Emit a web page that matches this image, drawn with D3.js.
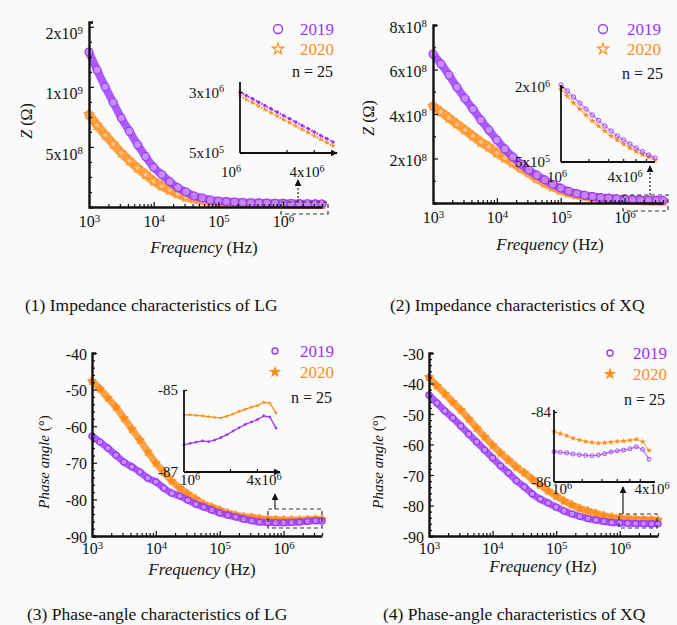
<!DOCTYPE html>
<html>
<head>
<meta charset="utf-8">
<script src="https://cdn.jsdelivr.net/npm/d3@7"></script>
<style>
  body { margin: 0; background: #fafafa; }
  svg text { font-family: "Liberation Serif", "DejaVu Serif", serif; }
</style>
</head>
<body>
<svg width="677" height="625"></svg>
<script>
// frequency sweep shared by the four main panels (Hz)
var freq = [1000,1334,1778,2371,3162,4217,5623,7499,10000,13335,17783,23714,31623,42170,56234,74989,
  100000,133352,177828,237137,316228,421697,562341,749894,1000000,1333521,1778279,2371374,3162278,4000000];
// sweep shown in the zoomed insets (Hz)
var freqZoom = [1000000,1097000,1203000,1320000,1447000,1587000,1741000,1910000,2095000,2297000,
  2520000,2764000,3031000,3325000,3647000,4000000];

// (1) impedance LG
var zLG2019 = [1.29e9,1.14e9,1.00e9,8.7e8,7.4e8,6.3e8,5.2e8,4.2e8,3.3e8,2.7e8,2.1e8,1.6e8,1.25e8,9.2e7,7.5e7,
  5.8e7,5.0e7,4.5e7,4.1e7,3.8e7,3.6e7,3.4e7,3.2e7,3.1e7,3.0e7,2.9e7,2.8e7,2.7e7,2.6e7,2.5e7];
var zLG2020 = [7.7e8,6.8e8,6.0e8,5.25e8,4.5e8,3.85e8,3.25e8,2.7e8,2.15e8,1.75e8,1.4e8,1.1e8,8.3e7,6.7e7,5.4e7,
  4.6e7,4.0e7,3.6e7,3.3e7,3.0e7,2.8e7,2.7e7,2.6e7,2.5e7,2.4e7,2.3e7,2.2e7,2.1e7,2.1e7,2.0e7];
// (2) impedance XQ
var zXQ2019 = [6.7e8,6.25e8,5.75e8,5.2e8,4.7e8,4.22e8,3.73e8,3.28e8,2.83e8,2.43e8,2.07e8,1.75e8,1.48e8,1.25e8,1.04e8,
  8.4e7,6.7e7,5.3e7,4.3e7,3.5e7,2.9e7,2.5e7,2.2e7,1.9e7,1.7e7,1.5e7,1.4e7,1.3e7,1.2e7,1.1e7];
var zXQ2020 = [4.36e8,4.09e8,3.82e8,3.55e8,3.28e8,3.01e8,2.74e8,2.52e8,2.25e8,2.02e8,1.80e8,1.57e8,1.36e8,1.10e8,9.0e7,
  7.2e7,5.7e7,4.5e7,3.7e7,3.0e7,2.5e7,2.1e7,1.8e7,1.6e7,1.4e7,1.2e7,1.1e7,1.0e7,9e6,8e6];
// (3) phase angle LG
var phLG2019 = [-62.7,-64.3,-66.0,-67.9,-69.8,-71.1,-72.5,-74.2,-75.2,-76.9,-78.3,-79.1,-80.2,-81.3,-82.1,
  -82.9,-83.7,-84.3,-84.8,-85.4,-85.8,-86.2,-86.3,-86.4,-86.4,-86.3,-86.2,-86.0,-85.8,-85.9];
var phLG2020 = [-47.7,-49.8,-52.3,-54.8,-57.8,-60.8,-63.8,-67.0,-70.1,-72.5,-75.0,-76.9,-78.5,-79.9,-81.3,
  -82.1,-82.9,-83.7,-84.3,-84.7,-84.9,-85.2,-85.4,-85.5,-85.6,-85.6,-85.6,-85.5,-85.4,-85.5];
// (4) phase angle XQ
var phXQ2019 = [-43.8,-46.4,-49.0,-51.3,-53.9,-56.6,-59.2,-61.8,-64.4,-67.0,-69.3,-71.9,-73.9,-76.2,-77.9,
  -79.2,-80.5,-81.8,-82.8,-83.6,-84.3,-84.8,-85.2,-85.6,-85.7,-85.8,-85.9,-85.9,-86.0,-86.0];
var phXQ2020 = [-37.9,-40.8,-43.4,-46.1,-48.7,-51.6,-54.6,-57.5,-60.2,-62.8,-65.1,-67.4,-69.3,-71.3,-73.3,
  -75.2,-76.9,-78.5,-79.8,-81.0,-81.8,-82.6,-83.3,-83.8,-84.1,-84.3,-84.5,-84.6,-84.7,-84.8];

// inset (zoomed) series
var zLGZoom2019 = [3.00e6,2.86e6,2.73e6,2.59e6,2.45e6,2.32e6,2.18e6,2.04e6,1.91e6,1.77e6,1.63e6,1.50e6,1.36e6,1.22e6,1.09e6,9.5e5];
var zLGZoom2020 = [2.84e6,2.70e6,2.57e6,2.43e6,2.29e6,2.16e6,2.02e6,1.88e6,1.75e6,1.61e6,1.47e6,1.34e6,1.20e6,1.06e6,9.3e5,7.9e5];
var zXQZoom2019 = [2.04e6,1.92e6,1.80e6,1.68e6,1.56e6,1.44e6,1.33e6,1.22e6,1.12e6,1.02e6,9.4e5,8.6e5,7.8e5,7.1e5,6.4e5,5.8e5];
var zXQZoom2020 = [1.96e6,1.82e6,1.68e6,1.56e6,1.44e6,1.32e6,1.22e6,1.12e6,1.02e6,9.4e5,8.6e5,7.8e5,7.1e5,6.5e5,6.0e5,5.4e5];
var phLGZoom2019 = [-86.34,-86.30,-86.27,-86.24,-86.26,-86.22,-86.16,-86.09,-86.00,-85.92,-85.84,-85.78,-85.72,-85.63,-85.66,-85.93];
var phLGZoom2020 = [-85.61,-85.60,-85.62,-85.63,-85.65,-85.67,-85.68,-85.64,-85.59,-85.52,-85.47,-85.42,-85.38,-85.30,-85.32,-85.56];
var phXQZoom2019 = [-85.13,-85.15,-85.17,-85.20,-85.22,-85.24,-85.25,-85.23,-85.19,-85.14,-85.11,-85.09,-85.05,-84.99,-85.07,-85.35];
var phXQZoom2020 = [-84.56,-84.62,-84.68,-84.75,-84.80,-84.84,-84.87,-84.89,-84.88,-84.86,-84.84,-84.83,-84.81,-84.78,-84.85,-85.10];

// ticks and labels
var xTickVals = [1e3, 1e4, 1e5, 1e6];
var xTickLabels = ["10^3", "10^4", "10^5", "10^6"];
var zLGTicks = [5e8, 1e9, 1.5e9];
var zLGTickLabels = ["5x10^8", "1x10^9", "2x10^9"];
var zXQTicks = [2e8, 4e8, 6e8, 8e8];
var zXQTickLabels = ["2x10^8", "4x10^8", "6x10^8", "8x10^8"];
var phLGTicks = [-90, -80, -70, -60, -50, -40];
var phXQTicks = [-90, -80, -70, -60, -50, -40, -30];
var zoomXTicks = [1e6, 4e6];
var zoomXTickLabels = ["10^6", "4x10^6"];
var zLGZoomTicks = [5e5, 3e6], zLGZoomLabels = ["5x10^5", "3x10^6"];
var zXQZoomTicks = [5e5, 2e6], zXQZoomLabels = ["5x10^5", "2x10^6"];
var phLGZoomTicks = [-87, -85], phXQZoomTicks = [-86, -84];
var years = ["2019", "2020"];
var nLabel = "n = 25";
var titles = ["(1) Impedance characteristics of LG", "(2) Impedance characteristics of XQ",
  "(3) Phase-angle characteristics of LG", "(4) Phase-angle characteristics of XQ"];

var purple = "#9933ff", orange = "#ff8c1a";
var FONT = "'Liberation Serif', 'DejaVu Serif', serif";
var svg = d3.select("svg");

var defs = svg.append("defs");
defs.append("marker").attr("id", "arr").attr("viewBox", "0 0 10 10")
  .attr("refX", 9).attr("refY", 5).attr("markerWidth", 7).attr("markerHeight", 7)
  .attr("markerUnits", "userSpaceOnUse").attr("orient", "auto")
  .append("path").attr("d", "M0,0L10,5L0,10z").attr("fill", "#111");

// write "a^b" as text with a superscript
function supText(text, s) {
  var parts = String(s).split("^");
  text.text(null);
  text.append("tspan").text(parts[0]);
  if (parts[1]) text.append("tspan").attr("dy", "-0.5em").attr("font-size", "0.68em").text(parts[1]);
}

function cleanAxis(a) {
  a.attr("font-family", FONT).attr("font-size", null);
  a.selectAll(".tick line").attr("stroke", "#111").attr("stroke-width", 1.2);
  a.select(".domain").attr("stroke", "#111");
}

function drawPanel(p) {
  var g = svg.append("g");
  var x = d3.scaleLog().domain([1e3, 4e6]).range(p.xr);
  var y = d3.scaleLinear().domain(p.yd).range(p.yr);
  var line = d3.line().x(function(d, i) { return x(freq[i]); }).y(function(d) { return y(d); })
    .curve(d3.curveMonotoneX);

  // 2020 band (stars) then 2019 band (circles)
  [[p.s20, orange, p.band20], [p.s19, purple, p.band19]].forEach(function(s, k) {
    g.append("path").datum(s[0]).attr("d", line).attr("fill", "none")
      .attr("stroke", s[1]).attr("stroke-width", s[2]).attr("stroke-opacity", 0.8)
      .attr("stroke-linecap", "round");
    if (k === 1) {
      g.selectAll(null).data(s[0]).enter().append("circle")
        .attr("cx", function(d, i) { return x(freq[i]); }).attr("cy", function(d) { return y(d); })
        .attr("r", p.r).attr("fill", "#f3eaff").attr("fill-opacity", 0.35)
        .attr("stroke", purple).attr("stroke-width", 1.1);
    } else {
      g.selectAll(null).data(s[0]).enter().append("path")
        .attr("transform", function(d, i) { return "translate(" + x(freq[i]) + "," + y(d) + ")"; })
        .attr("d", d3.symbol(d3.symbolStar).size(p.star))
        .attr("fill", p.filledStar ? orange : "#fff2e0").attr("fill-opacity", p.filledStar ? 1 : 0.4)
        .attr("stroke", orange).attr("stroke-width", 0.9);
    }
  });

  // x axis with minor log ticks
  var yb = p.yr[0];
  var minorX = x.ticks().filter(function(v) { return xTickVals.indexOf(v) < 0; });
  g.append("g").attr("transform", "translate(0," + yb + ")")
    .call(d3.axisBottom(x).tickValues(minorX).tickSize(-3).tickFormat(""))
    .call(cleanAxis).call(function(a) { a.select(".domain").remove(); });
  var ax = g.append("g").attr("transform", "translate(0," + yb + ")")
    .call(d3.axisBottom(x).tickValues(xTickVals).tickSizeInner(-5).tickSizeOuter(0).tickPadding(p.xPad))
    .call(cleanAxis);
  ax.select(".domain").attr("stroke-width", 2.4);
  ax.selectAll(".tick text").attr("font-size", 16).attr("fill", "#111")
    .each(function(d, i) { supText(d3.select(this), xTickLabels[i]); });

  // y axis with minor ticks
  var minorY = d3.range(p.yd[0], p.yd[1] + 1e-9, p.yMinor)
    .filter(function(v) { return p.yTicks.indexOf(v) < 0; });
  g.append("g").attr("transform", "translate(" + p.xr[0] + ",0)")
    .call(d3.axisLeft(y).tickValues(minorY).tickSize(-3).tickFormat(""))
    .call(cleanAxis).call(function(a) { a.select(".domain").remove(); });
  var ay = g.append("g").attr("transform", "translate(" + p.xr[0] + ",0)")
    .call(d3.axisLeft(y).tickValues(p.yTicks).tickSizeInner(-5).tickSizeOuter(-4).tickPadding(p.yPad))
    .call(cleanAxis);
  ay.select(".domain").attr("stroke-width", 2.4);
  ay.selectAll(".tick text").attr("font-size", 16).attr("fill", "#111").attr("y", p.yLabDy)
    .each(function(d, i) { supText(d3.select(this), p.yLabels ? p.yLabels[i] : String(d)); });

  // axis titles
  var xt = g.append("text").attr("x", p.xTitle[0]).attr("y", p.xTitle[1])
    .attr("text-anchor", "middle").attr("font-size", 17).attr("fill", "#111");
  xt.append("tspan").attr("font-style", "italic").text("Frequency");
  xt.append("tspan").text(" (Hz)");
  var yt = g.append("text").attr("transform", "translate(" + p.yTitle[0] + "," + p.yTitle[1] + ") rotate(-90)")
    .attr("text-anchor", "middle").attr("font-size", p.yNameSize).attr("fill", "#111");
  yt.append("tspan").attr("font-style", "italic").text(p.yName[0]);
  yt.append("tspan").text(p.yName[1]);

  // legend
  var L = p.legend;
  g.append("circle").attr("cx", L.x).attr("cy", L.y).attr("r", p.legR)
    .attr("fill", "none").attr("stroke", purple).attr("stroke-width", 1.3);
  g.append("path").attr("transform", "translate(" + L.x + "," + (L.y + L.gap) + ")")
    .attr("d", d3.symbol(d3.symbolStar).size(p.legStar))
    .attr("fill", p.filledStar ? orange : "none").attr("stroke", orange).attr("stroke-width", 1.1);
  g.append("text").attr("x", L.tx).attr("y", L.y + 6).attr("font-size", 17).attr("fill", purple).text(years[0]);
  g.append("text").attr("x", L.tx).attr("y", L.y + L.gap + 6).attr("font-size", 17).attr("fill", orange).text(years[1]);
  g.append("text").attr("x", L.nx).attr("y", L.ny).attr("text-anchor", "end")
    .attr("font-size", 16).attr("fill", "#111").text(nLabel);

  // zoom box and pointer
  var b = p.box;
  g.append("rect").attr("x", b[0]).attr("y", b[1]).attr("width", b[2] - b[0]).attr("height", b[3] - b[1])
    .attr("fill", "none").attr("stroke", "#333").attr("stroke-width", 1.2).attr("stroke-dasharray", "4,3");
  g.append("line").attr("x1", p.ptr[0]).attr("y1", p.ptr[1]).attr("x2", p.ptr[0]).attr("y2", p.ptr[2])
    .attr("stroke", "#222").attr("stroke-width", 1.2).attr("stroke-dasharray", p.ptrDash)
    .attr("marker-end", "url(#arr)");

  // caption
  g.append("text").attr("x", p.title[0]).attr("y", p.title[1]).attr("font-size", 17.5)
    .attr("fill", "#111").text(titles[p.id]);

  drawInset(p.inset);
}

function drawInset(q) {
  var g = svg.append("g");
  var x = d3.scaleLog().domain([1e6, 4e6]).range(q.xr);
  var y = d3.scaleLinear().domain(q.yd).range(q.yr);
  var line = d3.line().x(function(d, i) { return x(freqZoom[i]); }).y(function(d) { return y(d); });

  [[q.s20, orange], [q.s19, purple]].forEach(function(s, k) {
    g.append("path").datum(s[0]).attr("d", line).attr("fill", "none")
      .attr("stroke", s[1]).attr("stroke-width", q.lw).attr("stroke-opacity", q.lo)
      .attr("stroke-dasharray", q.dash || null);
    if (k === 1) {
      g.selectAll(null).data(s[0]).enter().append("circle")
        .attr("cx", function(d, i) { return x(freqZoom[i]); }).attr("cy", function(d) { return y(d); })
        .attr("r", q.r).attr("fill", q.hollow ? "none" : purple).attr("stroke", purple).attr("stroke-width", 0.9);
    } else {
      g.selectAll(null).data(s[0]).enter().append("path")
        .attr("transform", function(d, i) { return "translate(" + x(freqZoom[i]) + "," + y(d) + ")"; })
        .attr("d", d3.symbol(d3.symbolStar).size(q.star)).attr("fill", orange);
    }
  });

  var x0 = q.xr[0], yb = q.yr[0];
  g.append("line").attr("x1", x0).attr("x2", x0).attr("y1", q.top).attr("y2", yb)
    .attr("stroke", "#111").attr("stroke-width", 1.8);
  g.append("line").attr("x1", x0).attr("x2", q.xEnd).attr("y1", yb).attr("y2", yb)
    .attr("stroke", "#111").attr("stroke-width", 1.8)
    .attr("marker-end", q.arrow ? "url(#arr)" : null);

  // minor x ticks
  g.append("g").attr("transform", "translate(0," + yb + ")")
    .call(d3.axisBottom(x).tickValues(q.minorX).tickSize(-3).tickFormat(""))
    .call(cleanAxis).call(function(a) { a.select(".domain").remove(); });
  // x labels at both ends
  g.selectAll(null).data(zoomXTicks).enter().append("text")
    .attr("x", function(d, i) { return x(d) + q.xLabDx[i]; }).attr("y", yb + q.xLabDy)
    .attr("text-anchor", "middle").attr("font-size", 15).attr("fill", "#111")
    .each(function(d, i) { supText(d3.select(this), zoomXTickLabels[i]); });

  var ay = g.append("g").attr("transform", "translate(" + x0 + ",0)")
    .call(d3.axisLeft(y).tickValues(q.yTicks).tickSize(-3).tickPadding(q.yPad))
    .call(cleanAxis);
  ay.select(".domain").remove();
  ay.selectAll(".tick text").attr("font-size", 15).attr("fill", "#111")
    .each(function(d, i) { supText(d3.select(this), q.yLabels ? q.yLabels[i] : String(d)); });
}

var panels = [
  { id: 0, xr: [89, 322], yd: [0, 1.54e9], yr: [207, 22], yTicks: zLGTicks, yLabels: zLGTickLabels,
    yMinor: 1.25e8, yLabDy: 7, yPad: 6, xPad: 9, s19: zLG2019, s20: zLG2020, band19: 8, band20: 9, r: 4, star: 34,
    filledStar: false, legR: 4.5, legStar: 40, yName: ["Z", " (\u03a9)"], yNameSize: 16, yTitle: [32, 121], xTitle: [204, 253],
    legend: { x: 278, y: 29, gap: 20, tx: 300, nx: 333, ny: 77 }, box: [281, 202, 328, 214],
    ptr: [298, 202, 180], ptrDash: "2,2", title: [25, 311],
    inset: { xr: [240, 333], xEnd: 337, arrow: true, yd: [5e5, 3.42e6], yr: [153, 82], top: 82,
      s19: zLGZoom2019, s20: zLGZoom2020, lw: 2.2, lo: 0.9, dash: "1.6,1.4", r: 1.3, hollow: false, star: 8,
      yTicks: zLGZoomTicks, yLabels: zLGZoomLabels, yPad: 16, minorX: [2e6, 3e6], xLabDx: [-9, -26], xLabDy: 24 } },
  { id: 1, xr: [433, 663], yd: [0, 8e8], yr: [203, 25], yTicks: zXQTicks, yLabels: zXQTickLabels,
    yMinor: 1e8, yLabDy: 2, yPad: 6, xPad: 9, s19: zXQ2019, s20: zXQ2020, band19: 8, band20: 9, r: 4, star: 34,
    filledStar: false, legR: 4.5, legStar: 40, yName: ["Z", " (\u03a9)"], yNameSize: 16, yTitle: [374, 118], xTitle: [550, 250],
    legend: { x: 603, y: 29, gap: 20, tx: 627, nx: 663, ny: 79 }, box: [623, 195, 668, 211],
    ptr: [650, 195, 166], ptrDash: "2,2", title: [390, 311],
    inset: { xr: [561, 655], xEnd: 655, arrow: false, yd: [5e5, 2.04e6], yr: [162, 85], top: 85,
      s19: zXQZoom2019, s20: zXQZoom2020, lw: 1.4, lo: 0.6, r: 2.2, hollow: true, star: 14,
      yTicks: zXQZoomTicks, yLabels: zXQZoomLabels, yPad: 11, minorX: [1.5e6, 2e6, 2.5e6, 3e6, 3.5e6],
      xLabDx: [-4, -30], xLabDy: 20 } },
  { id: 2, xr: [92, 322], yd: [-90, -40], yr: [536, 353], yTicks: phLGTicks, yLabels: null,
    yMinor: 2, yLabDy: 1, yPad: 5, xPad: 7, s19: phLG2019, s20: phLG2020, band19: 7, band20: 7, r: 3, star: 24,
    filledStar: true, legR: 3, legStar: 26, yName: ["Phase angle", " (\u00b0)"], yNameSize: 15, yTitle: [49, 462], xTitle: [202, 575],
    legend: { x: 275, y: 351, gap: 21, tx: 300, nx: 332, ny: 403 }, box: [268, 509, 322, 528],
    ptr: [275, 509, 494], ptrDash: null, title: [27, 620],
    inset: { xr: [184, 276], xEnd: 280, arrow: true, yd: [-87, -85], yr: [472, 390], top: 390,
      s19: phLGZoom2019, s20: phLGZoom2020, lw: 1.3, lo: 1, r: 1, hollow: false, star: 6,
      yTicks: phLGZoomTicks, yLabels: null, yPad: 6, minorX: [2e6, 3e6], xLabDx: [6, -12], xLabDy: 13 } },
  { id: 3, xr: [429, 658], yd: [-90, -30], yr: [536, 353], yTicks: phXQTicks, yLabels: null,
    yMinor: 2, yLabDy: 1, yPad: 5, xPad: 7, s19: phXQ2019, s20: phXQ2020, band19: 7, band20: 7, r: 3, star: 24,
    filledStar: true, legR: 3, legStar: 26, yName: ["Phase angle", " (\u00b0)"], yNameSize: 15, yTitle: [383, 462], xTitle: [543, 572],
    legend: { x: 610, y: 353, gap: 21, tx: 633, nx: 665, ny: 405 }, box: [619, 514, 657, 528],
    ptr: [623, 514, 487], ptrDash: null, title: [383, 620],
    inset: { xr: [554, 649], xEnd: 655, arrow: false, yd: [-86, -84], yr: [482, 412], top: 410,
      s19: phXQZoom2019, s20: phXQZoom2020, lw: 1.2, lo: 0.7, r: 2, hollow: true, star: 12,
      yTicks: phXQZoomTicks, yLabels: null, yPad: 3, minorX: [1.5e6, 2e6, 2.5e6, 3e6, 3.5e6],
      xLabDx: [8, 3], xLabDy: 12 } }
];

panels.forEach(drawPanel);
svg.selectAll("text").attr("font-family", FONT);
</script>
</body>
</html>
